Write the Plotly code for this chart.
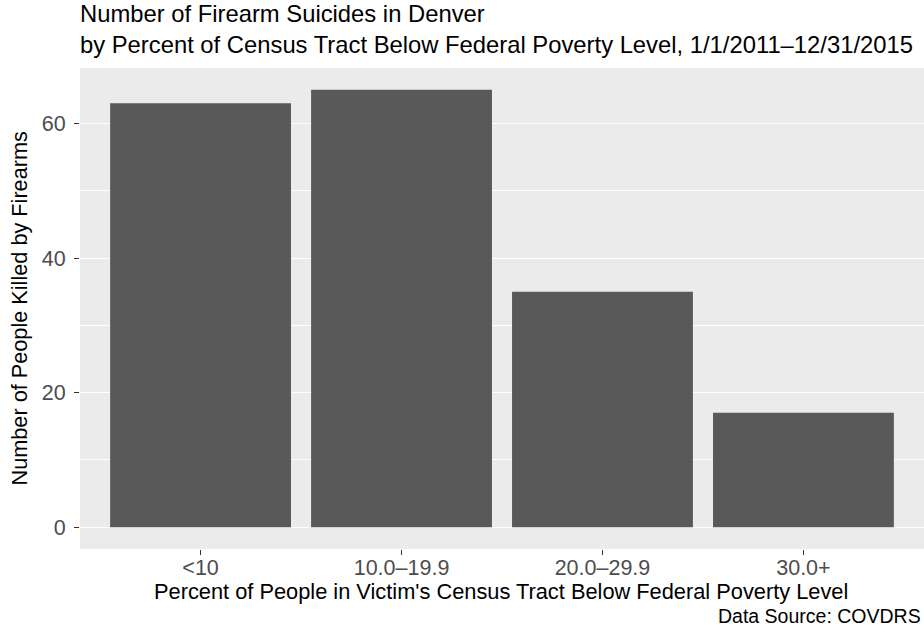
import plotly.graph_objects as go

categories = ["<10", "10.0–19.9", "20.0–29.9", "30.0+"]
counts = [63, 65, 35, 17]

title_line1 = "Number of Firearm Suicides in Denver"
title_line2 = "by Percent of Census Tract Below Federal Poverty Level, 1/1/2011–12/31/2015"
x_title = "Percent of People in Victim's Census Tract Below Federal Poverty Level"
y_title = "Number of People Killed by Firearms"
caption = "Data Source: COVDRS"

FONT = "Liberation Sans, Arial, sans-serif"

fig = go.Figure(go.Bar(x=categories, y=counts, width=0.9,
                       marker=dict(color="#595959", line=dict(width=0))))

fig.update_layout(
    width=924, height=637,
    margin=dict(l=80, r=0, t=68, b=88, pad=0),
    paper_bgcolor="white", plot_bgcolor="#EBEBEB",
    font=dict(family=FONT, color="black"),
    showlegend=False,
)
fig.update_xaxes(
    type="category", range=[-0.6, 3.6], showgrid=False, zeroline=False,
    ticks="outside", ticklen=5, tickwidth=1.1, tickcolor="#333333",
    tickfont=dict(size=21.5, color="#4D4D4D", family=FONT),
    ticklabelstandoff=-6,
)
fig.update_yaxes(
    range=[-3.25, 68.25], tickvals=[0, 20, 40, 60], showgrid=True, gridcolor="white", gridwidth=1.1,
    zeroline=False,
    minor=dict(tickvals=[10, 30, 50], showgrid=True, gridcolor="white", gridwidth=0.5, ticks=""),
    ticks="outside", ticklen=5, tickwidth=1.1, tickcolor="#333333",
    tickfont=dict(size=21.5, color="#4D4D4D", family=FONT),
    ticklabelstandoff=4,
)

fig.add_annotation(text=title_line1 + "<br>" + title_line2, xref="paper", yref="paper",
                   x=0, y=1, xanchor="left", yanchor="top", yshift=70, xshift=-2, align="left",
                   showarrow=False, font=dict(size=23.8, color="black", family=FONT))
fig.add_annotation(text=x_title, xref="paper", yref="paper", x=0.5, y=0, xanchor="center", yanchor="top",
                   yshift=-28, xshift=-1, showarrow=False, font=dict(size=21.8, color="black", family=FONT))
fig.add_annotation(text=y_title, xref="paper", yref="paper", x=0, y=0.5, xanchor="center", yanchor="middle",
                   xshift=-61, textangle=-90, showarrow=False, font=dict(size=21.7, color="black", family=FONT))
fig.add_annotation(text=caption, xref="paper", yref="paper", x=1, y=0, xanchor="right", yanchor="top",
                   yshift=-54, xshift=-1, showarrow=False, font=dict(size=19.5, color="black", family=FONT))

fig.write_html("out.html", config={"displayModeBar": False},
               post_script="document.body.style.margin='0';")
